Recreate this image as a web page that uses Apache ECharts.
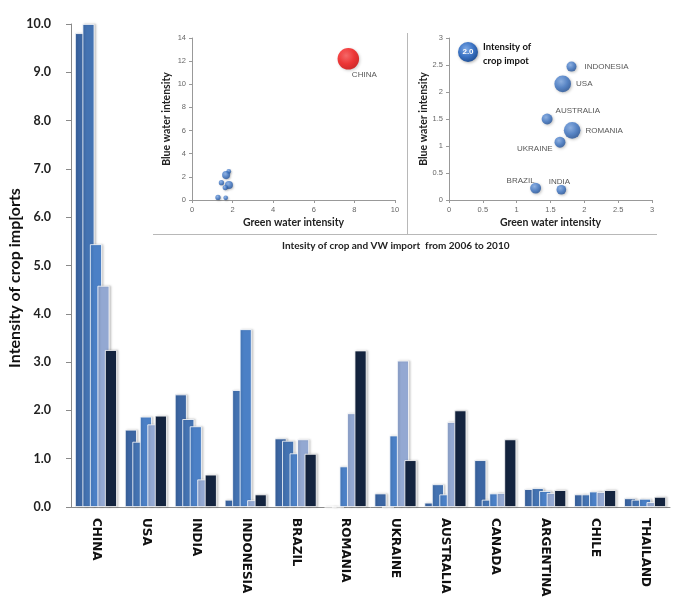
<!DOCTYPE html>
<html>
<head>
<meta charset="utf-8">
<script src="https://cdn.jsdelivr.net/npm/echarts@6/dist/echarts.min.js"></script>
<style>html,body{margin:0;padding:0;background:#fff;}#c{width:681px;height:597px;}</style>
</head>
<body>
<div id="c"></div>
<script>
// ---------- DATA ----------
var countries = ['CHINA','USA','INDIA','INDONESIA','BRAZIL','ROMANIA','UKRAINE','AUSTRALIA','CANADA','ARGENTINA','CHILE','THAILAND'];
var years = ['2006','2007','2008','2009','2010'];
var y2006 = [9.81, 1.60, 2.33, 0.15, 1.42, 0.00, 0.28, 0.09, 0.97, 0.37, 0.26, 0.18];
var y2007 = [10.0, 1.35, 1.82, 2.42, 1.37, 0.00, 0.00, 0.47, 0.15, 0.39, 0.26, 0.15];
var y2008 = [5.44, 1.87, 1.67, 3.68, 1.11, 0.84, 1.48, 0.26, 0.28, 0.33, 0.32, 0.17];
var y2009 = [4.58, 1.71, 0.57, 0.14, 1.40, 1.94, 3.03, 1.76, 0.29, 0.29, 0.31, 0.10];
var y2010 = [3.25, 1.89, 0.67, 0.26, 1.10, 3.24, 0.97, 2.00, 1.40, 0.35, 0.35, 0.21];
var yTicks = ['0.0','1.0','2.0','3.0','4.0','5.0','6.0','7.0','8.0','9.0','10.0'];

var bubbleCountries = ['INDONESIA','USA','AUSTRALIA','ROMANIA','UKRAINE','BRAZIL','INDIA'];
var greenIntensity  = [1.81, 1.68, 1.45, 1.82, 1.64, 1.28, 1.66];
var blueIntensity   = [2.47, 2.15, 1.50, 1.29, 1.07, 0.22, 0.19];
var importIntensity = [0.50, 1.39, 0.60, 1.39, 0.60, 0.60, 0.47];
var chinaName = 'CHINA';
var chinaGreen = 7.7, chinaBlue = 12.2, chinaImport = 10.0;
var legendBubbleValue = '2.0';

// ---------- STYLE ----------
var barColors = ['#3c66a3', '#4473b2', '#4b80c6', '#93a8d2', '#14243f'];
var labelPos = {
  'INDONESIA': {position:'right', distance:8, offset:[0,0]},
  'USA':       {position:'right', distance:5, offset:[0,0]},
  'AUSTRALIA': {position:'right', distance:5, offset:[-2,-8]},
  'ROMANIA':   {position:'right', distance:5, offset:[0,0]},
  'UKRAINE':   {position:'left',  distance:5, offset:[3,7]},
  'BRAZIL':    {position:'top',   distance:5, offset:[-15,7]},
  'INDIA':     {position:'top',   distance:5, offset:[-2,6]}
};
var blueBall = {type:'radial', x:0.4, y:0.35, r:0.7, colorStops:[
  {offset:0, color:'#7faae6'},{offset:0.55, color:'#3c74c4'},{offset:1, color:'#1f4d92'}]};
var redBall = {type:'radial', x:0.4, y:0.35, r:0.7, colorStops:[
  {offset:0, color:'#ff5050'},{offset:0.55, color:'#f41010'},{offset:1, color:'#cc0000'}]};
var FONT = 'Lato';

var chart = echarts.init(document.getElementById('c'), null, {renderer:'canvas'});

var barSeries = [y2006, y2007, y2008, y2009, y2010].map(function (arr, i) {
  return {
    type: 'bar', name: years[i], xAxisIndex: 0, yAxisIndex: 0,
    data: arr, barWidth: 12, barGap: '-37.5%',
    itemStyle: {color: barColors[i], borderColor: '#ffffff', borderWidth: 0.8,
      shadowColor: 'rgba(0,0,0,0.18)', shadowBlur: 2, shadowOffsetX: 1.5},
    silent: true
  };
});

function bubbleData(showLabel) {
  return bubbleCountries.map(function (c, i) {
    var lp = labelPos[c];
    return {name: c, value: [greenIntensity[i], blueIntensity[i], importIntensity[i]],
      label: {show: showLabel, position: lp.position, distance: lp.distance, offset: lp.offset,
        formatter: '{b}', fontSize: 8, color: '#2a2a2a', fontFamily: 'Liberation Sans'}};
  });
}

function insetAxisX(grid, max, interval, fmt) {
  return {type:'value', gridIndex:grid, min:0, max:max, interval:interval,
    name:'Green water intensity', nameLocation:'middle', nameGap:17,
    nameTextStyle:{fontFamily:FONT, fontWeight:'bold', fontSize:10.5, color:'#222'},
    axisLine:{show:true, lineStyle:{color:'#999', width:1}},
    axisTick:{show:true, length:3, lineStyle:{color:'#999'}},
    axisLabel:{fontSize:7.5, color:'#666', margin:6, fontFamily:'Liberation Sans', formatter:fmt},
    splitLine:{show:false}};
}
function insetAxisY(grid, max, interval, fmt) {
  return {type:'value', gridIndex:grid, min:0, max:max, interval:interval,
    name:'Blue water intensity', nameLocation:'middle', nameGap:20,
    nameTextStyle:{fontFamily:FONT, fontWeight:'bold', fontSize:10.5, color:'#222'},
    axisLine:{show:true, lineStyle:{color:'#999', width:1}},
    axisTick:{show:true, length:3, lineStyle:{color:'#999'}},
    axisLabel:{fontSize:7.5, color:'#666', margin:6, fontFamily:'Liberation Sans', formatter:fmt},
    splitLine:{show:false}};
}
var numFmt = function (v) { return String(v); };

chart.setOption({
  animation: false,
  backgroundColor: '#ffffff',
  grid: [
    {left:71, top:24, right:11, bottom:90, containLabel:false, outerBoundsMode:'none'},
    {left:192, top:38, width:203, height:162, containLabel:false, outerBoundsMode:'none'},
    {left:449, top:38, width:203, height:162, containLabel:false, outerBoundsMode:'none'}
  ],
  xAxis: [
    {type:'category', gridIndex:0, data:countries,
      axisLine:{show:true, lineStyle:{color:'#8a8a8a', width:1}},
      axisTick:{show:false},
      axisLabel:{rotate:-90, interval:0, margin:11, fontSize:12, fontWeight:'bold',
        color:'#111', fontFamily:'DejaVu Sans'}},
    insetAxisX(1, 10, 2, numFmt),
    insetAxisX(2, 3, 0.5, numFmt)
  ],
  yAxis: [
    {type:'value', gridIndex:0, min:0, max:10, interval:1,
      axisLine:{show:true, lineStyle:{color:'#8a8a8a', width:1}},
      axisTick:{show:true, inside:false, length:5, lineStyle:{color:'#8a8a8a'}},
      axisLabel:{margin:20, fontSize:12.5, fontWeight:'bold', color:'#222', fontFamily:FONT,
        formatter:function (v) { return yTicks[Math.round(v)]; }},
      splitLine:{show:false}},
    insetAxisY(1, 14, 2, numFmt),
    insetAxisY(2, 3, 0.5, numFmt)
  ],
  series: barSeries.concat([
    {type:'scatter', xAxisIndex:1, yAxisIndex:1, silent:true,
      symbolSize:function (v) { return 6.8 * Math.sqrt(v[2]); },
      itemStyle:{color:blueBall, shadowColor:'rgba(0,0,0,0.25)', shadowBlur:2, shadowOffsetX:1, shadowOffsetY:1},
      data: bubbleData(false)},
    {type:'scatter', xAxisIndex:1, yAxisIndex:1, silent:true,
      symbolSize:function (v) { return 6.8 * Math.sqrt(v[2]); },
      itemStyle:{color:redBall, shadowColor:'rgba(0,0,0,0.25)', shadowBlur:3, shadowOffsetX:1, shadowOffsetY:1},
      label:{show:true, position:'bottom', distance:5, offset:[16,-4], formatter:'{b}',
        fontSize:8, color:'#2a2a2a', fontFamily:'Liberation Sans'},
      data:[{name:chinaName, value:[chinaGreen, chinaBlue, chinaImport]}]},
    {type:'scatter', xAxisIndex:2, yAxisIndex:2, silent:true,
      symbolSize:function (v) { return 14.14 * Math.sqrt(v[2]); },
      itemStyle:{color:blueBall, shadowColor:'rgba(0,0,0,0.3)', shadowBlur:3, shadowOffsetX:1, shadowOffsetY:1},
      data: bubbleData(true)}
  ]),
  graphic: [
    {type:'line', shape:{x1:153, y1:234.5, x2:657, y2:234.5}, style:{stroke:'#b8b8b8', lineWidth:1}, silent:true},
    {type:'line', shape:{x1:407.5, y1:33, x2:407.5, y2:234}, style:{stroke:'#b8b8b8', lineWidth:1}, silent:true},
    {type:'text', left:282, top:241, style:{text:'Intesity of crop and VW import  from 2006 to 2010',
      font:'bold 10px Lato', fill:'#222'}},
    {type:'text', x:15, y:278, rotation:Math.PI/2,
      style:{text:'Intensity of crop imp[orts', font:'bold 16px Lato', fill:'#111',
        textAlign:'center', textVerticalAlign:'middle'}},
    {type:'circle', shape:{cx:468, cy:52, r:10},
      style:{fill:blueBall, shadowColor:'rgba(0,0,0,0.3)', shadowBlur:3, shadowOffsetX:1, shadowOffsetY:1}},
    {type:'text', x:468, y:52, style:{text:legendBubbleValue, font:'bold 8px Liberation Sans', fill:'#fff',
      textAlign:'center', textVerticalAlign:'middle'}},
    {type:'text', x:483, y:40, style:{text:'Intensity of\ncrop impot', font:'bold 9.5px Lato', fill:'#111',
      lineHeight:14}}
  ]
});
</script>
</body>
</html>
